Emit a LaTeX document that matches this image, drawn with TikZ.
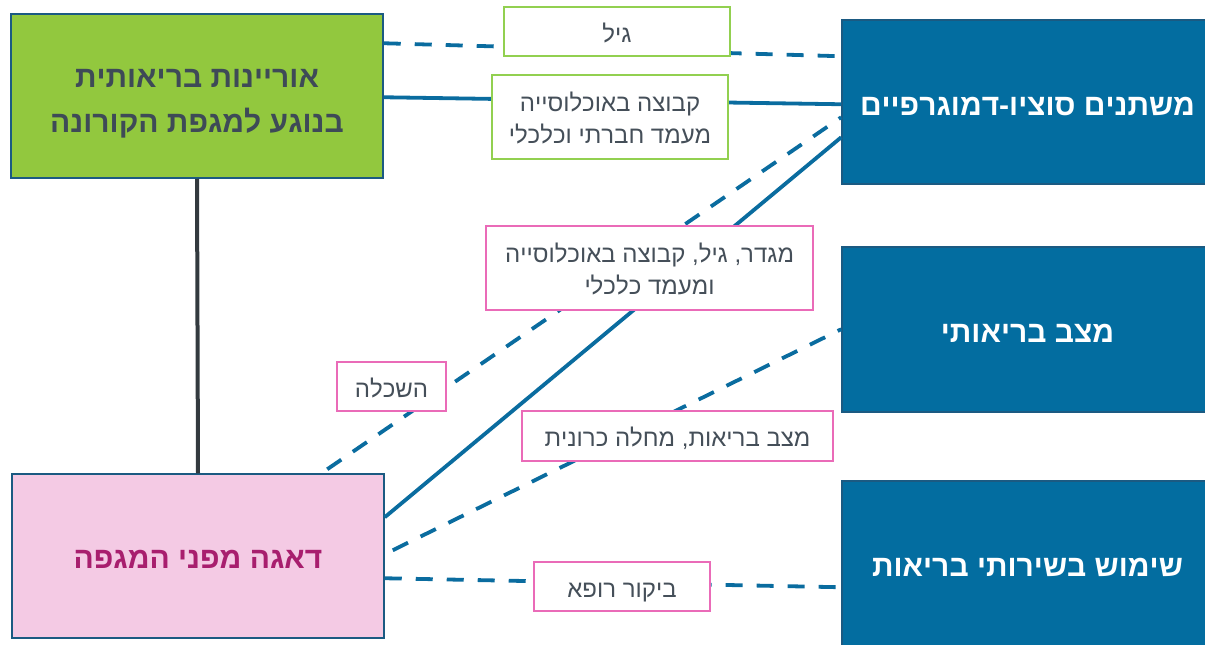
\documentclass[tikz,border=0pt]{standalone}
\usepackage{fontspec}
\setmainfont{Liberation Sans}
\TeXXeTstate=1
\definecolor{boxgreen}{HTML}{92C83E}
\definecolor{labgreen}{HTML}{92D050}
\definecolor{boxpink}{HTML}{F4CAE4}
\definecolor{pinktext}{HTML}{A81E6E}
\definecolor{labpink}{HTML}{EA6BB8}
\definecolor{boxblue}{HTML}{036DA0}
\definecolor{boxedge}{HTML}{1B5A82}
\definecolor{lineblue}{HTML}{0A6C9F}
\definecolor{greentext}{HTML}{3E4A57}
\definecolor{labtext}{HTML}{454F59}
\definecolor{vline}{HTML}{333A3F}
\newcommand{\topstrut}[1]{\rule{0pt}{#1}}
\newcommand{\botstrut}[1]{\rule[-#1]{0pt}{#1}}
\begin{document}
\begin{tikzpicture}[x=1pt,y=-1pt,
  mainbox/.style={draw=boxedge,line width=1.5pt,minimum height=164pt,inner sep=0pt,align=center,font=\fontsize{30}{45}\selectfont\bfseries},
  bluebox/.style={mainbox,fill=boxblue,text=white,minimum width=365pt,text height=28pt,text depth=2pt},
  labbox/.style={draw,line width=1.3pt,fill=white,inner sep=0pt,align=center,text=labtext,font=\fontsize{24}{32}\selectfont},
  onelab/.style={labbox,text height=21pt,text depth=0pt},
  glab/.style={draw=labgreen},
  plab/.style={draw=labpink},
  solidline/.style={draw=lineblue,line width=3.8pt},
  dashline/.style={solidline,dash pattern=on 17pt off 14pt}]
\useasboundingbox (0,0) rectangle (1205,645);
\node[mainbox,fill=boxgreen,text=greentext,minimum width=372pt] (green) at (197,96)
  {\topstrut{34pt}\beginR אוריינות בריאותית\endR\\\beginR בנוגע למגפת הקורונה\endR\botstrut{7pt}};
\node[mainbox,fill=boxpink,text=pinktext,minimum width=372pt,text height=26pt,text depth=2pt] (pink) at (198,556)
  {\beginR דאגה מפני המגפה\endR};
\node[bluebox] (soc) at (1024.5,102) {\hspace*{6pt}\beginR משתנים סוציו-דמוגרפיים\endR};
\node[bluebox,minimum height=165pt] (health) at (1024.5,329.5) {\hspace*{6pt}\beginR מצב בריאותי\endR};
\node[bluebox,minimum height=166pt,text height=26pt] (use) at (1024.5,564) {\hspace*{6pt}\beginR שימוש בשירותי בריאות\endR};
% connectors
\draw[draw=vline,line width=4pt] (green.south) -- (pink.north);
\draw[dashline] ([yshift=-30pt]green.north east) -- ([yshift=-37pt]soc.north west);
\draw[solidline] ([yshift=-84pt]green.north east) -- ([yshift=-85pt]soc.north west);
\draw[dashline] ([xshift=316pt,yshift=4pt]pink.north west) -- ([yshift=-98pt]soc.north west);
\draw[solidline] ([yshift=-44pt]pink.north east) -- ([yshift=-118pt]soc.north west);
\draw[dashline] ([xshift=8pt,yshift=-77pt]pink.north east) -- ([yshift=-83pt]health.north west);
\draw[dashline] ([yshift=-105pt]pink.north east) -- ([yshift=-107pt]use.north west);
% labels
\node[onelab,glab,minimum width=226pt,minimum height=49pt] (lgil) at (617,31.5) {\beginR גיל\endR};
\node[labbox,glab,minimum width=236pt,minimum height=84pt] (lkv) at (610,117)
  {\topstrut{22pt}\beginR קבוצה באוכלוסייה\endR\\\beginR מעמד חברתי וכלכלי\endR\botstrut{0pt}};
\node[onelab,plab,minimum width=109pt,minimum height=49pt] (lhas) at (391.5,386.5) {\beginR השכלה\endR};
\node[labbox,plab,minimum width=327pt,minimum height=84pt] (lmig) at (649.5,268)
  {\topstrut{21pt}\beginR מגדר, גיל, קבוצה באוכלוסייה\endR\\\beginR ומעמד כלכלי\endR\botstrut{0pt}};
\node[onelab,plab,minimum width=311pt,minimum height=50pt] (lmat) at (677.5,436) {\beginR מצב בריאות, מחלה כרונית\endR};
\node[onelab,plab,minimum width=176pt,minimum height=49pt] (lbik) at (622,586.5) {\beginR ביקור רופא\endR};
\end{tikzpicture}
\end{document}
